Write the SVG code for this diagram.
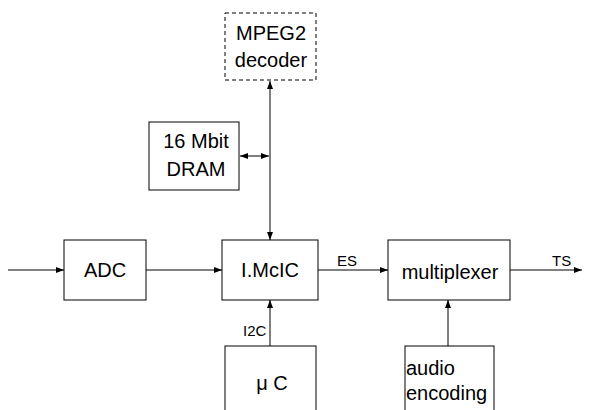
<svg xmlns="http://www.w3.org/2000/svg" width="590" height="410" viewBox="0 0 590 410">
<style>
.box{fill:#fff;stroke:#000;stroke-width:1}
.dash{fill:#fff;stroke:#000;stroke-width:1;stroke-dasharray:4,3}
.t{font-family:"Liberation Sans",Arial,sans-serif;font-size:20px;fill:#000}
.s{font-family:"Liberation Sans",Arial,sans-serif;font-size:15px;fill:#000}
.c{fill:none;stroke:#000;stroke-width:1}
</style>
<defs>
<marker id="ah" markerWidth="8" markerHeight="6" refX="8" refY="3" orient="auto" markerUnits="userSpaceOnUse">
<path d="M0,0 L8,3 L0,6 Z" fill="#000"/>
</marker>
<marker id="as" markerWidth="8" markerHeight="6" refX="0" refY="3" orient="auto" markerUnits="userSpaceOnUse">
<path d="M8,0 L0,3 L8,6 Z" fill="#000"/>
</marker>
</defs>
<g id="connectors">
<line class="c" x1="270" y1="81" x2="270" y2="240" marker-start="url(#as)" marker-end="url(#ah)"/>
<line class="c" x1="240" y1="156" x2="269" y2="156" marker-start="url(#as)" marker-end="url(#ah)"/>
<line class="c" x1="8" y1="270" x2="64" y2="270" marker-end="url(#ah)"/>
<line class="c" x1="146" y1="270" x2="222" y2="270" marker-end="url(#ah)"/>
<line class="c" x1="318" y1="270" x2="388" y2="270" marker-end="url(#ah)"/>
<line class="c" x1="510" y1="270" x2="582" y2="270" marker-end="url(#ah)"/>
<line class="c" x1="270" y1="346" x2="270" y2="300" marker-end="url(#ah)"/>
<line class="c" x1="448" y1="346" x2="448" y2="300" marker-end="url(#ah)"/>
<text class="s" x="337" y="266">ES</text>
<text class="s" x="552" y="266">TS</text>
<text class="s" x="243" y="336">I2C</text>
</g>
<g id="mpeg2">
<rect class="dash" x="225" y="13" width="91" height="67"/>
<text class="t" x="271" y="40" text-anchor="middle">MPEG2</text>
<text class="t" x="271" y="67" text-anchor="middle">decoder</text>
</g>
<g id="dram">
<rect class="box" x="149" y="122" width="90" height="68"/>
<text class="t" x="196" y="148" text-anchor="middle">16 Mbit</text>
<text class="t" x="196" y="176" text-anchor="middle">DRAM</text>
</g>
<g id="adc">
<rect class="box" x="64" y="240" width="82" height="60"/>
<text class="t" x="105" y="277" text-anchor="middle">ADC</text>
</g>
<g id="imcic">
<rect class="box" x="222" y="240" width="96" height="60"/>
<text class="t" x="270" y="277" text-anchor="middle">I.McIC</text>
</g>
<g id="multiplexer">
<rect class="box" x="388" y="240" width="122" height="60"/>
<text class="t" x="450" y="279" text-anchor="middle">multiplexer</text>
</g>
<g id="uc">
<rect class="box" x="225" y="346" width="91" height="70"/>
<text class="t" x="272" y="390" text-anchor="middle">μ C</text>
</g>
<g id="audio">
<rect class="box" x="405" y="346" width="89" height="70"/>
<text class="t" x="406" y="375">audio</text>
<text class="t" x="406" y="400">encoding</text>
</g>
</svg>
